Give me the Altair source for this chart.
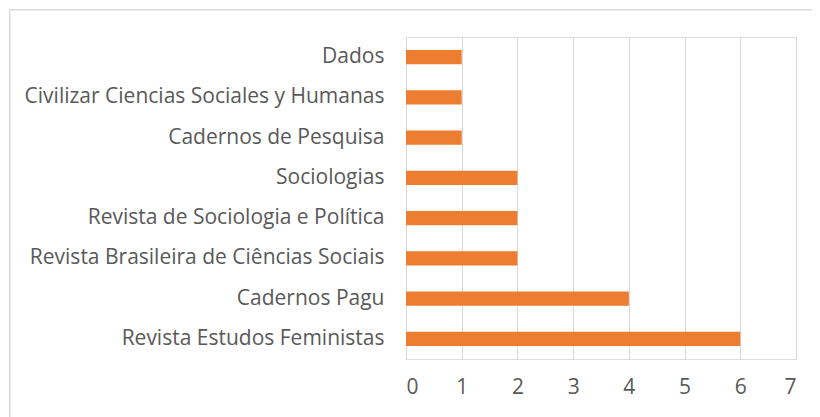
import altair as alt
import pandas as pd

journals = [
    "Dados",
    "Civilizar Ciencias Sociales y Humanas",
    "Cadernos de Pesquisa",
    "Sociologias",
    "Revista de Sociologia e Política",
    "Revista Brasileira de Ciências Sociais",
    "Cadernos Pagu",
    "Revista Estudos Feministas",
]
counts = [1, 1, 1, 2, 2, 2, 4, 6]

df = pd.DataFrame({"journal": journals, "count": counts})

FONT = "Open Sans"
GRAY = "#595959"

bars = alt.Chart(df).mark_bar(color="#ED7D31").encode(
    x=alt.X(
        "count:Q",
        scale=alt.Scale(domain=[0, 7], nice=False),
        axis=alt.Axis(
            title=None, values=list(range(8)), format="d",
            domain=False, ticks=False, grid=True, gridColor="#D9D9D9",
            labelFont=FONT, labelFontSize=21, labelColor=GRAY, labelPadding=17,
        ),
    ),
    y=alt.Y(
        "journal:N",
        sort=journals,
        scale=alt.Scale(paddingInner=0.65, paddingOuter=0.325),
        axis=alt.Axis(
            title=None, domain=False, ticks=False, grid=False,
            labelFont=FONT, labelFontSize=21, labelColor=GRAY, labelPadding=22,
            labelLimit=500,
        ),
    ),
)

frame = pd.DataFrame({"k": [0]})

top_line = alt.Chart(frame).mark_rect(
    color="#D9D9D9", clip=False
).encode(x=alt.value(-397), x2=alt.value(406), y=alt.value(-28), y2=alt.value(-26.5))

left_line = alt.Chart(frame).mark_rect(
    color="#D9D9D9", clip=False
).encode(x=alt.value(-397), x2=alt.value(-395.5), y=alt.value(-28), y2=alt.value(380))

chart = alt.layer(top_line, left_line, bars).properties(
    width=390,
    height=322,
    autosize=alt.AutoSizeParams(type="none"),
    padding={"left": 398, "top": 29, "right": 16, "bottom": 58},
).configure_view(strokeWidth=0).configure(background="white")

chart.save("out.html", embed_options={"renderer": "svg", "actions": False})
